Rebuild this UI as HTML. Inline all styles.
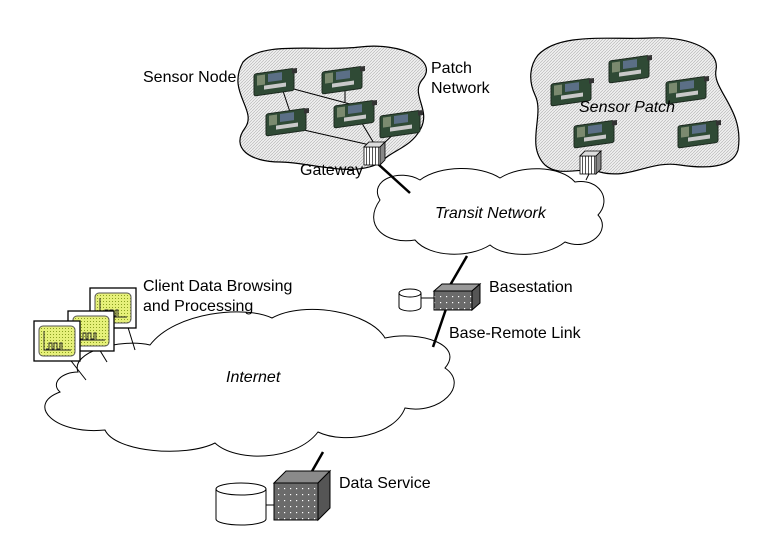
<!DOCTYPE html>
<html><head><meta charset="utf-8"><style>
html,body{margin:0;padding:0;background:#fff}
svg{display:block}
text{font-family:"Liberation Sans",Arial,sans-serif;font-size:16px;fill:#000}
</style></head><body>
<svg width="762" height="547" viewBox="0 0 762 547" xmlns="http://www.w3.org/2000/svg">
<defs>
<pattern id="hatch" width="3" height="3" patternUnits="userSpaceOnUse">
<rect width="3" height="3" fill="#efefef"/><path d="M0,3 L3,0" stroke="#b0b0b0" stroke-width="0.6"/>
</pattern>
<pattern id="dots" width="6" height="6" patternUnits="userSpaceOnUse">
<rect width="6" height="6" fill="#6b6b6b"/><rect x="2" y="2" width="1.2" height="1.2" fill="#fff"/>
</pattern>
<pattern id="ydots" width="3" height="3" patternUnits="userSpaceOnUse">
<rect width="3" height="3" fill="#e6f07a"/><rect x="1" y="1" width="1" height="1" fill="#8aa020"/>
</pattern>
<pattern id="stripes" width="3" height="4" patternUnits="userSpaceOnUse">
<rect width="3" height="4" fill="#fff"/><rect width="1" height="4" fill="#555"/>
</pattern>
<g id="mote">
<rect x="0" y="4" width="40" height="22" rx="2" fill="#2f4a35" stroke="#1d2a20" transform="skewY(-8)"/>
<rect x="14" y="6" width="14" height="8" fill="#5b6f86" transform="skewY(-8)"/>
<rect x="10" y="17" width="22" height="4" fill="#c9c9c9" transform="skewY(-8)"/>
<rect x="3" y="6" width="8" height="10" fill="#7b8a6f" transform="skewY(-8)"/>
<rect x="38" y="4" width="5" height="5" fill="#333" transform="skewY(-8)"/>
</g>
<g id="mon">
<rect x="0" y="0" width="46" height="40" fill="#fff" stroke="#000" stroke-width="1.3"/>
<rect x="5" y="5" width="36" height="30" rx="4" fill="url(#ydots)" stroke="#555"/>
<path d="M10,10 V29 H37 M12,28 h3 v-6 h3 v6 h2 v-6 h3 v6 h3 v-6 h2 v6" fill="none" stroke="#222" stroke-width="0.9"/>
</g>
</defs>

<path d="M243,62 C262,40 320,52 360,47 C400,42 440,60 422,80 C410,95 432,110 420,130 C410,148 392,150 380,163 C350,178 310,162 280,162 C250,162 230,148 245,128 C258,110 226,92 243,62 Z" fill="url(#hatch)" stroke="#000" stroke-width="1.2"/>
<path d="M538,55 C560,32 610,40 650,38 C690,36 720,50 716,70 C712,90 745,110 738,150 C732,170 700,168 680,165 C650,160 630,180 600,172 C580,166 560,178 545,165 C525,145 545,115 535,95 C528,80 530,65 538,55 Z" fill="url(#hatch)" stroke="#000" stroke-width="1.2"/>

<g stroke="#000" stroke-width="1" fill="none">
<line x1="282" y1="88" x2="290" y2="112"/><line x1="290" y1="88" x2="350" y2="104"/>
<line x1="345" y1="86" x2="345" y2="102"/><line x1="295" y1="128" x2="370" y2="145"/>
<line x1="360" y1="120" x2="375" y2="145"/><line x1="398" y1="130" x2="382" y2="145"/>
</g>
<use href="#mote" x="254" y="70"/><use href="#mote" x="322" y="68"/><use href="#mote" x="266" y="110"/>
<use href="#mote" x="334" y="102"/><use href="#mote" x="380" y="112"/>
<use href="#mote" x="551" y="80"/><use href="#mote" x="609" y="57"/><use href="#mote" x="666" y="78"/>
<use href="#mote" x="574" y="122"/><use href="#mote" x="678" y="122"/>

<path d="M380,200 C368,180 400,168 420,180 C440,165 480,165 500,178 C520,165 560,165 575,182 C600,178 612,200 598,215 C612,230 590,252 565,242 C545,258 505,258 490,245 C470,258 430,258 415,240 C385,245 362,225 380,200 Z" fill="#fff" stroke="#000" stroke-width="1"/>
<path d="M78,372 C70,352 120,338 150,345 C175,312 245,305 272,318 C305,300 370,312 385,338 C420,330 465,345 445,368 C470,385 440,415 405,408 C395,435 345,445 318,432 C295,462 235,462 215,443 C185,458 115,452 105,430 C55,435 25,405 60,392 C50,383 62,372 78,372 Z" fill="#fff" stroke="#000" stroke-width="1"/>

<g stroke="#000" stroke-width="2.5">
<line x1="378" y1="164" x2="410" y2="193"/>
<line x1="467" y1="256" x2="449" y2="287"/>
<line x1="447" y1="306" x2="433" y2="347"/>
<line x1="323" y1="452" x2="311" y2="473"/>
</g>
<line x1="590" y1="172" x2="586" y2="180" stroke="#000" stroke-width="1"/>

<g><rect x="364" y="147" width="16" height="18" fill="url(#stripes)" stroke="#000" stroke-width="0.8"/>
<path d="M364,147 l5,-5 h16 l-5,5 z" fill="#ddd" stroke="#000" stroke-width="0.8"/>
<path d="M380,147 l5,-5 v18 l-5,5 z" fill="#888" stroke="#000" stroke-width="0.8"/></g>
<g><rect x="580" y="156" width="16" height="18" fill="url(#stripes)" stroke="#000" stroke-width="0.8"/>
<path d="M580,156 l5,-5 h16 l-5,5 z" fill="#ddd" stroke="#000" stroke-width="0.8"/>
<path d="M596,156 l5,-5 v18 l-5,5 z" fill="#888" stroke="#000" stroke-width="0.8"/></g>

<line x1="420" y1="298" x2="434" y2="298" stroke="#000"/>
<path d="M399,293 v14 a11,4 0 0 0 22,0 v-14" fill="#fff" stroke="#000"/>
<ellipse cx="410" cy="293" rx="11" ry="4" fill="#fff" stroke="#000"/>
<rect x="434" y="291" width="38" height="19" fill="url(#dots)" stroke="#000"/>
<path d="M434,291 l8,-7 h38 l-8,7 z" fill="#999" stroke="#000"/>
<path d="M472,291 l8,-7 v19 l-8,7 z" fill="#555" stroke="#000"/>

<line x1="263" y1="505" x2="274" y2="505" stroke="#000"/>
<path d="M216,489 v30 a25,6 0 0 0 50,0 v-30" fill="#fff" stroke="#000"/>
<ellipse cx="241" cy="489" rx="25" ry="6" fill="#fff" stroke="#000"/>
<rect x="274" y="483" width="44" height="37" fill="url(#dots)" stroke="#000"/>
<path d="M274,483 l12,-12 h44 l-12,12 z" fill="#8a8a8a" stroke="#000"/>
<path d="M318,483 l12,-12 v37 l-12,12 z" fill="#555" stroke="#000"/>

<g stroke="#000" stroke-width="1">
<line x1="68" y1="357" x2="86" y2="380"/><line x1="96" y1="344" x2="107" y2="362"/><line x1="126" y1="321" x2="135" y2="350"/>
</g>
<use href="#mon" x="90" y="288"/>
<use href="#mon" x="68" y="311"/>
<use href="#mon" x="34" y="321"/>

<text x="143" y="82">Sensor Node</text>
<text x="431" y="73">Patch</text><text x="431" y="93">Network</text>
<text x="300" y="175">Gateway</text>
<text x="579" y="112" font-style="italic">Sensor Patch</text>
<text x="435" y="218" font-style="italic">Transit Network</text>
<text x="143" y="291">Client Data Browsing</text>
<text x="143" y="311">and Processing</text>
<text x="489" y="292">Basestation</text>
<text x="449" y="338">Base-Remote Link</text>
<text x="226" y="382" font-style="italic">Internet</text>
<text x="339" y="488">Data Service</text>
</svg>
</body></html>
